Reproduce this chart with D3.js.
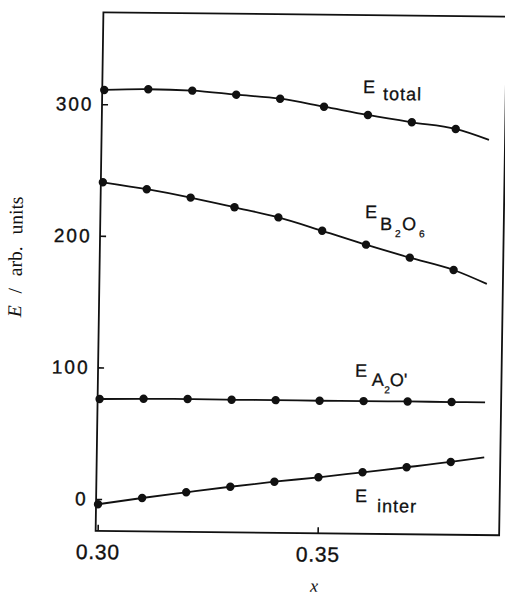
<!DOCTYPE html>
<html>
<head>
<meta charset="utf-8">
<script src="https://cdn.jsdelivr.net/npm/d3@7"></script>
<style>
  html, body { margin: 0; padding: 0; background: #fff; }
  svg { display: block; }
</style>
</head>
<body>
<script>
// Composition x and the energy terms (arb. units) at each composition
const xValues = [0.30, 0.31, 0.32, 0.33, 0.34, 0.35, 0.36, 0.37, 0.38];
const eTotal  = [310.9, 311.8, 311.1, 308.4, 305.7, 300.0, 294.1, 288.9, 284.2];
const eB2O6   = [240.7, 235.8, 229.8, 222.8, 215.5, 205.7, 195.5, 186.0, 177.0];
const eA2O    = [76.0, 76.5, 76.7, 76.5, 76.6, 76.5, 76.6, 76.7, 76.6];
const eInter  = [-4.0, 1.1, 5.8, 10.4, 14.6, 18.3, 22.5, 26.7, 31.1];

// Where the fitted curves stop (x) and each curve's value there, in series order
const fitEndX = 0.3876;
const fitEndValues = [276.1, 166.7, 76.7, 34.9];

const xTicks = [0.30, 0.35];
const yTicks = [0, 100, 200, 300];

const W = 505, H = 597;
const plot = { left: 99.5, right: 503, top: 14.5, bottom: 533 };

const svg = d3.select("body").append("svg")
  .attr("width", W).attr("height", H)
  .attr("viewBox", `0 0 ${W} ${H}`);

// the printed figure sits slightly askew on the page
const g = svg.append("g").attr("transform", "matrix(1,0.011,-0.015,1,4.125,-3.3)");

const x = d3.scaleLinear()
  .domain([0.30 - 2 / 4400, 0.30 + 401.5 / 4400])
  .range([plot.left, plot.right]);
const y = d3.scaleLinear().domain([-24.2, 369.9]).range([plot.bottom, plot.top]);

const ink = "#111";
const sans = "'Liberation Sans', Arial, Helvetica, sans-serif";
const serif = "'Liberation Serif', 'Times New Roman', serif";

// frame
g.append("rect")
  .attr("x", plot.left).attr("y", plot.top)
  .attr("width", plot.right - plot.left).attr("height", plot.bottom - plot.top)
  .attr("fill", "none").attr("stroke", ink).attr("stroke-width", 1.8);

// axes with inward ticks
const yAxis = d3.axisLeft(y).tickValues(yTicks).tickSize(-6).tickPadding(10.5)
  .tickFormat(d3.format("d"));
const xAxis = d3.axisBottom(x).tickValues(xTicks).tickSize(-6).tickPadding(13.5)
  .tickFormat(d3.format(".2f"));

const gy = g.append("g").attr("transform", `translate(${plot.left},0)`).call(yAxis);
const gx = g.append("g").attr("transform", `translate(0,${plot.bottom})`).call(xAxis);
[gy, gx].forEach(a => {
  a.select(".domain").remove();
  a.selectAll(".tick line").attr("stroke", ink).attr("stroke-width", 1.6);
  a.selectAll(".tick text")
    .attr("fill", ink)
    .attr("stroke", ink).attr("stroke-width", 0.35)
    .style("font-family", sans);
});
gy.selectAll(".tick text").style("font-size", "19px").style("letter-spacing", "2px")
  .attr("dx", "2px");
gx.selectAll(".tick text").style("font-size", "21px").style("letter-spacing", "0.8px");

// series: fitted curves and markers
const series = [eTotal, eB2O6, eA2O, eInter];
const line = d3.line()
  .x(d => x(d[0])).y(d => y(d[1]))
  .curve(d3.curveMonotoneX);

series.forEach((vals, i) => {
  const pts = xValues.map((xv, j) => [xv, vals[j]]);
  const curvePts = pts.concat([[fitEndX, fitEndValues[i]]]);
  g.append("path")
    .attr("d", line(curvePts))
    .attr("fill", "none").attr("stroke", ink).attr("stroke-width", 1.8);
  g.append("g").selectAll("circle").data(pts).join("circle")
    .attr("cx", d => x(d[0])).attr("cy", d => y(d[1]))
    .attr("r", 4.2).attr("fill", ink);
});

// series labels: E with subscripts
function label(parts) {
  const t = g.append("g");
  parts.forEach(p => {
    t.append("text")
      .attr("x", p.x).attr("y", p.y)
      .attr("fill", ink).attr("stroke", ink).attr("stroke-width", 0.3)
      .style("font-family", sans).style("font-size", p.size + "px")
      .style("letter-spacing", (p.ls || 0) + "px")
      .text(p.s);
  });
}
label([
  { s: "E", x: 360.2, y: 92.3, size: 18 },
  { s: "total", x: 380.4, y: 99.1, size: 18, ls: 1 }
]);
label([
  { s: "E", x: 364.2, y: 217.3, size: 18 },
  { s: "B", x: 379.3, y: 229.1, size: 18 },
  { s: "2", x: 394.4, y: 236.0, size: 10 },
  { s: "O", x: 401.4, y: 229.0, size: 18 },
  { s: "6", x: 418.4, y: 236.0, size: 10 }
]);
label([
  { s: "E", x: 356.6, y: 376.1, size: 18 },
  { s: "A", x: 373.5, y: 384.9, size: 18 },
  { s: "2", x: 386, y: 392.4, size: 10 },
  { s: "O'", x: 391.5, y: 384.9, size: 18 }
]);
label([
  { s: "E", x: 358.5, y: 501.4, size: 18 },
  { s: "inter", x: 380.5, y: 511.2, size: 18, ls: 1 }
]);

// axis titles
g.append("text")
  .attr("x", 318.8).attr("y", 591.5)
  .attr("text-anchor", "middle")
  .attr("fill", ink)
  .style("font-family", serif).style("font-style", "italic").style("font-size", "18px")
  .text("x");

const yt = g.append("text")
  .attr("transform", "translate(21.7,260) rotate(-90)")
  .attr("text-anchor", "middle")
  .attr("fill", ink)
  .style("font-family", serif).style("font-size", "19.5px")
  .style("word-spacing", "7px");
yt.append("tspan").style("font-style", "italic").text("E");
yt.append("tspan").text(" / arb. units");
</script>
</body>
</html>
